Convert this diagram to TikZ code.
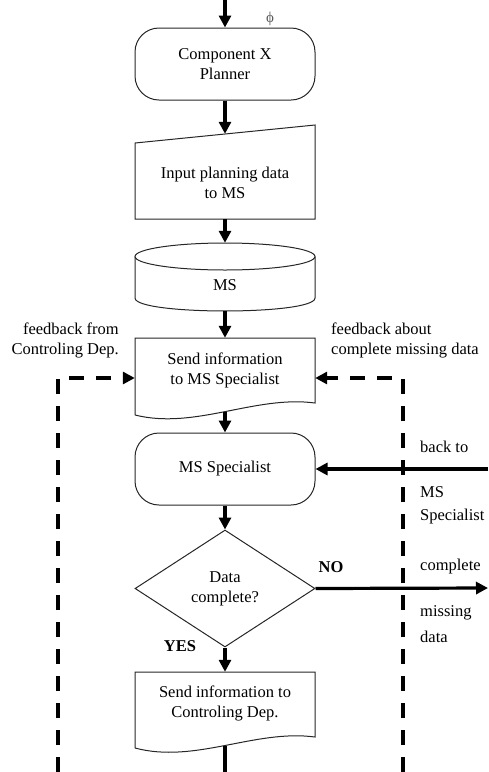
\documentclass[tikz,border=0pt]{standalone}
\usepackage{fontspec}
\setmainfont{Liberation Serif}
\usetikzlibrary{arrows.meta,shapes.geometric}
\begin{document}
\begin{tikzpicture}[x=1pt,y=-1pt,
  every node/.style={font=\fontsize{16.5}{20}\selectfont},
  shapeline/.style={draw=black!85,line width=1pt},
  termbox/.style={shapeline,rectangle,rounded corners=24pt,minimum width=180pt,minimum height=72pt,align=center,inner sep=0pt},
  anchorbox/.style={rectangle,minimum width=180pt,inner sep=0pt},
  textbox/.style={align=center,inner sep=0pt},
  decision/.style={shapeline,diamond,minimum width=180pt,minimum height=117pt,aspect=1.54,inner sep=0pt,align=center},
  flow/.style={line width=3.2pt,-{Triangle[length=12pt,width=12pt]}},
  plainflow/.style={line width=3.2pt},
  feedback/.style={line width=3.2pt,dash pattern=on 15pt off 12pt,-{Triangle[length=12pt,width=12pt]}},
  note/.style={align=left,anchor=west,inner sep=0pt},
  answer/.style={font=\fontsize{16.5}{20}\selectfont\bfseries,inner sep=0pt},
  ]
\useasboundingbox (0,0) rectangle (488,772);

% free ends of connectors
\coordinate (top) at (225,0);
\coordinate (bot) at (225,772);
\coordinate (rin) at (488,469);
\coordinate (nout) at (488,588);
\coordinate (lfb) at (58,772);
\coordinate (rfb) at (403,772);

% terminal: planner
\node[termbox] (term1) at (225,64) {Component X\\Planner};
\node[font=\fontsize{15}{16}\selectfont,text=black!65,inner sep=0pt] (phi) at (270,19) {ϕ};

% manual input
\draw[shapeline] (135,143) -- (315,125) -- (315,219) -- (135,219) -- cycle;
\node[anchorbox,minimum height=85pt] (inp) at (225,176.5) {};
\node[textbox] (inptxt) at (225,183) {Input planning data\\to MS};

% database cylinder
\draw[shapeline] (225,256.5) ellipse [x radius=90, y radius=13.5];
\draw[shapeline] (135,256.5) -- (135,298) .. controls (135,315.3) and (315,315.3) .. (315,298) -- (315,256.5);
\node[anchorbox,minimum height=68pt] (ms) at (225,277) {};
\node[textbox] (mstxt) at (225,285) {MS};

% document: send to specialist
\draw[shapeline] (135,415) -- (135,338) -- (315,338) -- (315,403)
  .. controls (255,395) and (195,430) .. (135,415) coordinate[pos=0.5] (doc1b);
\node[anchorbox,minimum height=80pt] (doc1) at (225,378) {};
\node[textbox] (doc1txt) at (225,370) {Send information\\to MS Specialist};

% terminal: specialist
\node[termbox] (spec) at (225,469) {MS Specialist};

% decision
\node[decision] (dec) at (225,588.5) {Data\\complete?};

% document: send to controlling
\draw[shapeline] (135,748) -- (135,672) -- (315,672) -- (315,737)
  .. controls (255,729) and (195,764) .. (135,748) coordinate[pos=0.5] (doc2b);
\node[anchorbox,minimum height=76pt] (doc2) at (225,710) {};
\node[textbox] (doc2txt) at (225,703) {Send information to\\Controling Dep.};

% feedback loops
\draw[feedback] (lfb) |- (doc1.west);
\draw[feedback] (rfb) |- (doc1.east);

% main flow
\draw[flow] (top) -- (term1.north);
\draw[flow] (term1.south) -- (inp.north);
\draw[flow] (inp.south) -- (ms.north);
\draw[flow] (ms.south) -- (doc1.north);
\draw[flow] (doc1b) -- (spec.north);
\draw[flow] (spec.south) -- (dec.north);
\draw[flow] (dec.south) -- (doc2.north);
\draw[plainflow] (doc2b) -- (bot);
\draw[flow] (rin) -- (spec.east);
\draw[flow] (dec.east) -- (nout);

% labels
\node[align=right,anchor=east,inner sep=0pt] (fbl) at (119,340) {feedback from\\Controling Dep.};
\node[note] (fbr) at (331,340) {feedback about\\complete missing data};
\node[note] (bk1) at (420,447) {back to};
\node[note] (bk2) at (420,492) {MS};
\node[note] (bk3) at (420,517) {Specialist};
\node[note] (cm1) at (420,567) {complete};
\node[note] (cm2) at (420,613) {missing};
\node[note] (cm3) at (420,637) {data};
\node[answer] (no) at (331,567) {NO};
\node[answer] (yes) at (180,646) {YES};
\end{tikzpicture}
\end{document}
